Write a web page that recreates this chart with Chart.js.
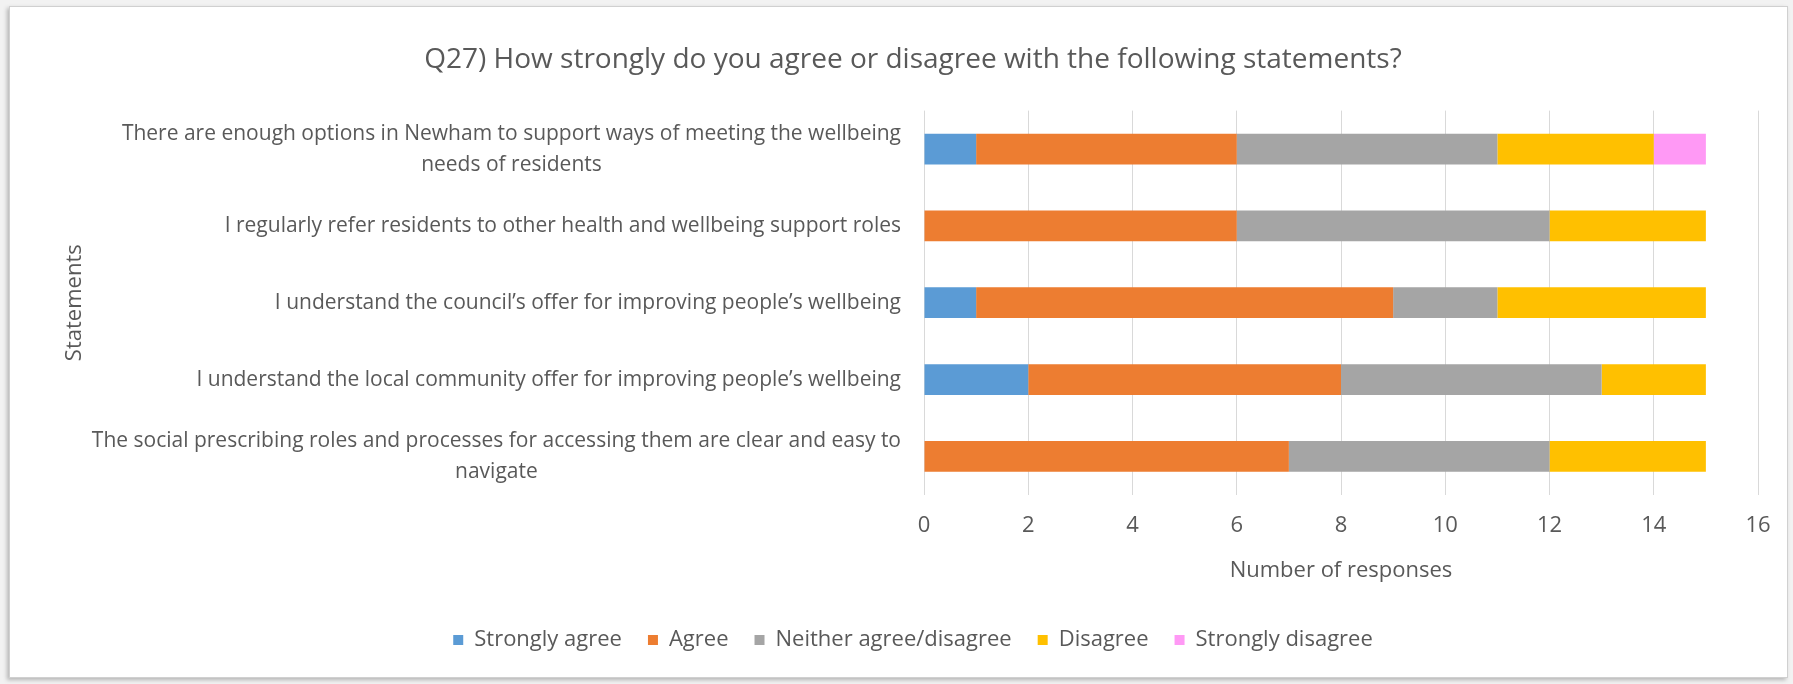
<!DOCTYPE html>
<html lang="en">
<head>
  <meta charset="UTF-8" />
  <title>Q27 wellbeing statements</title>
  <script src="https://cdn.jsdelivr.net/npm/chart.js"></script>
  <style>
    * { box-sizing: border-box; }
    body { margin: 0; background: #f2f2f2; }
    .frame {
      position: absolute;
      left: 9px; top: 6px;
      width: 1779px; height: 672px;
      background: #fff;
      border: 1px solid #d0d0d0;
      box-shadow: -2px 2px 4px rgba(0,0,0,0.25);
    }
    canvas { display: block; }
  </style>
</head>
<body>
  <div class="frame">
    <canvas id="chart"></canvas>
  </div>

  <script>
    const FONT = "'Open Sans', sans-serif";
    const TEXT = '#595959';

    const statements = [
      ['There are enough options in Newham to support ways of meeting the wellbeing', 'needs of residents'],
      ['I regularly refer residents to other health and wellbeing support roles'],
      ['I understand the council\u2019s offer for improving people\u2019s wellbeing'],
      ['I understand the local community offer for improving people\u2019s wellbeing'],
      ['The social prescribing roles and processes for accessing them are clear and easy to', 'navigate']
    ];

    const stronglyAgree    = [1, 0, 1, 2, 0];
    const agree            = [5, 6, 8, 6, 7];
    const neither          = [5, 6, 2, 5, 5];
    const disagree         = [3, 3, 4, 2, 3];
    const stronglyDisagree = [1, 0, 0, 0, 0];

    const xTicks = [0, 2, 4, 6, 8, 10, 12, 14, 16];

    // draws the category labels: right aligned, extra lines centred under the first
    const statementLabels = {
      id: 'statementLabels',
      afterDraw(chart) {
        const ctx = chart.ctx;
        const y = chart.scales.y;
        const right = chart.chartArea.left - 23;
        const lh = 31;
        ctx.save();
        ctx.font = '21px ' + FONT;
        ctx.fillStyle = TEXT;
        ctx.textBaseline = 'middle';
        statements.forEach((lines, i) => {
          const cy = y.getPixelForTick(i);
          const w0 = ctx.measureText(lines[0]).width;
          const top = cy - (lines.length - 1) * lh / 2;
          lines.forEach((line, j) => {
            if (j === 0) {
              ctx.textAlign = 'right';
              ctx.fillText(line, right, top);
            } else {
              ctx.textAlign = 'center';
              ctx.fillText(line, right - w0 / 2, top + j * lh);
            }
          });
        });
        ctx.restore();
      }
    };

    new Chart(document.getElementById('chart'), {
      type: 'bar',
      data: {
        labels: statements,
        datasets: [
          { label: 'Strongly agree', data: stronglyAgree, backgroundColor: '#5b9bd5' },
          { label: 'Agree', data: agree, backgroundColor: '#ed7d31' },
          { label: 'Neither agree/disagree', data: neither, backgroundColor: '#a5a5a5' },
          { label: 'Disagree', data: disagree, backgroundColor: '#ffc000' },
          { label: 'Strongly disagree', data: stronglyDisagree, backgroundColor: '#ff99f5' }
        ]
      },
      plugins: [statementLabels],
      options: {
        indexAxis: 'y',
        responsive: true,
        maintainAspectRatio: false,
        animation: false,
        barPercentage: 0.4,
        categoryPercentage: 1,
        layout: { padding: { left: 58, right: 29, top: 10, bottom: 16 } },
        plugins: {
          title: {
            display: true,
            text: 'Q27) How strongly do you agree or disagree with the following statements?',
            color: TEXT,
            font: { family: FONT, size: 28, weight: 'normal' },
            padding: { top: 26, bottom: 34 }
          },
          legend: {
            position: 'bottom',
            labels: {
              color: TEXT,
              font: { family: FONT, size: 22 },
              boxWidth: 10,
              boxHeight: 10,
              padding: 26
            }
          },
          tooltip: { enabled: false }
        },
        scales: {
          x: {
            stacked: true,
            min: 0,
            max: 16,
            afterBuildTicks: scale => { scale.ticks = xTicks.map(v => ({ value: v })); },
            // the tick padding below is only vertical room, so keep it out of the side padding
            afterFit: scale => { scale.paddingRight = 0; scale.paddingLeft = 0; },
            grid: { color: '#d9d9d9', drawTicks: false },
            border: { display: false },
            ticks: { color: TEXT, font: { family: FONT, size: 22, lineHeight: 0.4 }, padding: 27 },
            title: {
              display: true,
              text: 'Number of responses',
              color: TEXT,
              font: { family: FONT, size: 22 },
              padding: { top: 0, bottom: 19 }
            }
          },
          y: {
            stacked: true,
            grid: { display: false },
            border: { display: false },
            ticks: { display: false },
            afterFit: scale => { scale.width = 856; },
            title: {
              display: true,
              text: 'Statements',
              color: TEXT,
              font: { family: FONT, size: 22 },
              padding: { top: -6, bottom: 0 }
            }
          }
        }
      }
    });
  </script>
</body>
</html>
